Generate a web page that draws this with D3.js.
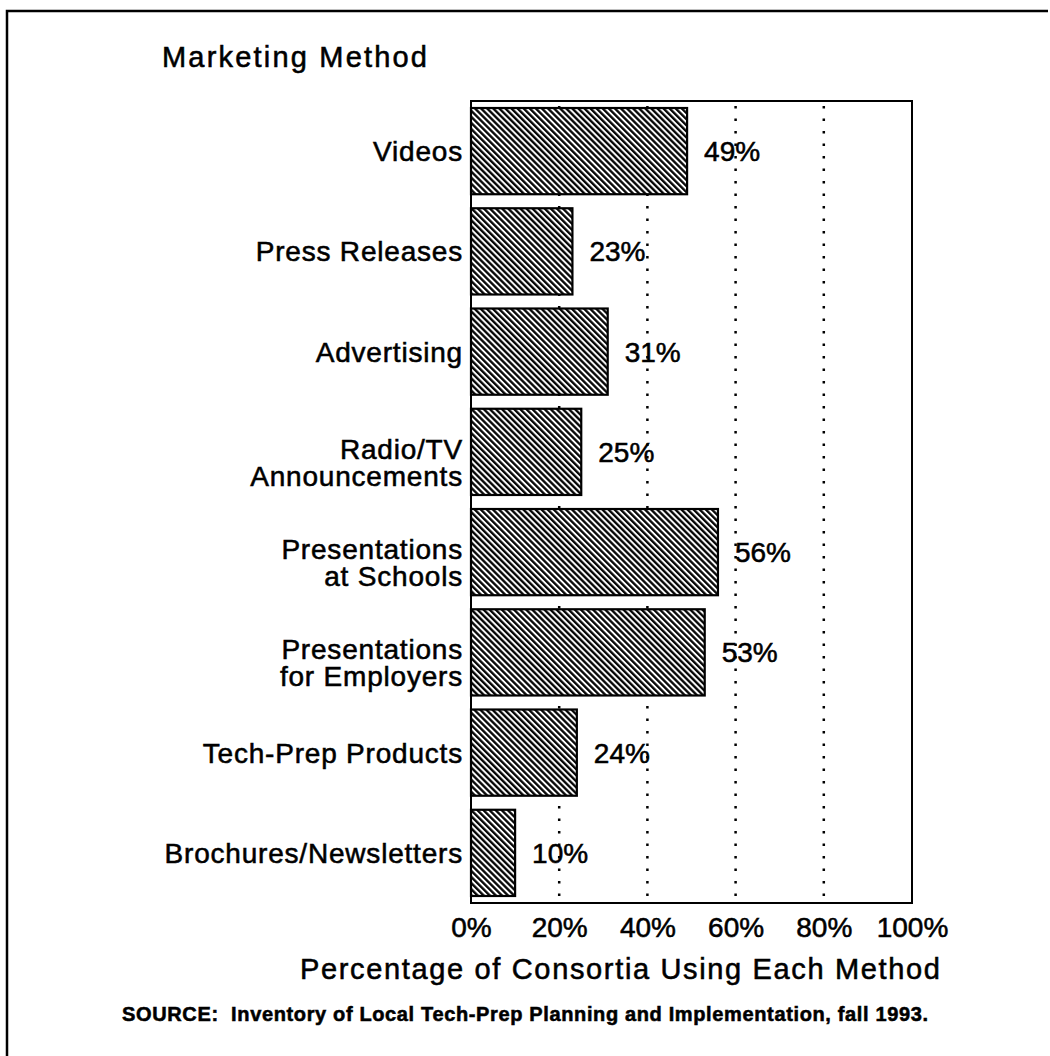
<!DOCTYPE html>
<html><head><meta charset="utf-8">
<script src="https://cdn.jsdelivr.net/npm/d3@7/dist/d3.min.js"></script>
<style>html,body{margin:0;padding:0;background:#fff;} svg{display:block;} text{font-family:"Liberation Sans",Arial,Helvetica,sans-serif;fill:#000;stroke:#000;stroke-width:0.55px;}</style>
</head><body><svg id="chart" width="1050" height="1056"></svg>
<script>
// ---- data ----
const categories = [
  ["Videos"],
  ["Press Releases"],
  ["Advertising"],
  ["Radio/TV", "Announcements"],
  ["Presentations", "at Schools"],
  ["Presentations", "for Employers"],
  ["Tech-Prep Products"],
  ["Brochures/Newsletters"]
];
const values = [49, 23, 31, 25, 56, 53, 24, 10];
const tickValues = [0, 20, 40, 60, 80, 100];
const tickLabels = ["0%", "20%", "40%", "60%", "80%", "100%"];
const gridValues = [20, 40, 60, 80];
const titleText = "Marketing Method";
const axisTitleText = "Percentage of Consortia Using Each Method";
const sourceText = "SOURCE:  Inventory of Local Tech-Prep Planning and Implementation, fall 1993.";

// ---- layout ----
const svg = d3.select("#chart");
const plot = {left: 471, right: 912, top: 101, bottom: 903};
const names = categories.map(c => c.join(" "));
const x = d3.scaleLinear().domain([0, 100]).range([plot.left, plot.right]);
const y = d3.scaleBand().domain(names).range([plot.top, plot.bottom]).paddingInner(0.14).paddingOuter(0.07);

// hatch pattern
const defs = svg.append("defs");
const pat = defs.append("pattern").attr("id", "hatch").attr("patternUnits", "userSpaceOnUse")
  .attr("width", 4.3).attr("height", 10).attr("patternTransform", "rotate(-45)");
pat.append("rect").attr("width", 4.3).attr("height", 10).attr("fill", "#fff");
pat.append("line").attr("x1", 1.2).attr("x2", 1.2).attr("y1", 0).attr("y2", 10)
  .attr("stroke", "#000").attr("stroke-width", 2.3);

// outer frame (top and left)
svg.append("path").attr("d", "M7,1056 L7,11 L1048,11").attr("fill", "none")
  .attr("stroke", "#000").attr("stroke-width", 2.5);

// title
svg.append("text").attr("x", 162).attr("y", 67).attr("font-size", 29)
  .attr("textLength", 265).attr("lengthAdjust", "spacing").text(titleText);

// gridlines
svg.append("g").selectAll("line").data(gridValues).join("line")
  .attr("x1", d => x(d)).attr("x2", d => x(d))
  .attr("y1", plot.top).attr("y2", plot.bottom)
  .attr("stroke", "#000").attr("stroke-width", 2.5)
  .attr("stroke-dasharray", "2.5 10").attr("stroke-dashoffset", -5);

// bars
svg.append("g").selectAll("rect").data(values).join("rect")
  .attr("x", x(0)).attr("y", (d, i) => y(names[i]))
  .attr("width", d => x(d) - x(0)).attr("height", y.bandwidth())
  .attr("fill", "url(#hatch)").attr("stroke", "#000").attr("stroke-width", 2.2);

// plot frame
svg.append("rect").attr("x", plot.left).attr("y", plot.top)
  .attr("width", plot.right - plot.left).attr("height", plot.bottom - plot.top)
  .attr("fill", "none").attr("stroke", "#000").attr("stroke-width", 2);

// value labels
svg.append("g").selectAll("text").data(values).join("text")
  .attr("x", d => x(d) + 17).attr("y", (d, i) => y(names[i]) + y.bandwidth() / 2 + 10)
  .attr("font-size", 28).text(d => d + "%");

// category labels
const catG = svg.append("g");
categories.forEach((lines, i) => {
  const cy = y(names[i]) + y.bandwidth() / 2;
  const t = catG.append("text").attr("text-anchor", "end").attr("font-size", 28)
    .attr("letter-spacing", 0.8);
  if (lines.length === 1) {
    t.append("tspan").attr("x", plot.left - 8).attr("y", cy + 10).text(lines[0]);
  } else {
    lines.forEach((ln, k) => {
      t.append("tspan").attr("x", plot.left - 8).attr("y", cy + 7 + k * 27).text(ln);
    });
  }
});

// x axis tick labels
const xAxis = d3.axisBottom(x).tickValues(tickValues).tickSize(0)
  .tickFormat((d, i) => tickLabels[i]);
const ax = svg.append("g").attr("transform", `translate(0,${plot.bottom})`).call(xAxis);
ax.select(".domain").remove();
ax.selectAll("text").attr("font-size", 28).attr("font-family", '"Liberation Sans",Arial,sans-serif')
  .attr("fill", "#000").attr("dy", null).attr("y", 34);

// axis title
svg.append("text").attr("x", 300).attr("y", 979).attr("font-size", 29)
  .attr("textLength", 640).attr("lengthAdjust", "spacing").text(axisTitleText);

// source
svg.append("text").attr("x", 122).attr("y", 1021).attr("font-size", 20).attr("font-weight", "bold")
  .style("white-space", "pre").attr("textLength", 806).attr("lengthAdjust", "spacing").text(sourceText);
</script></body></html>
